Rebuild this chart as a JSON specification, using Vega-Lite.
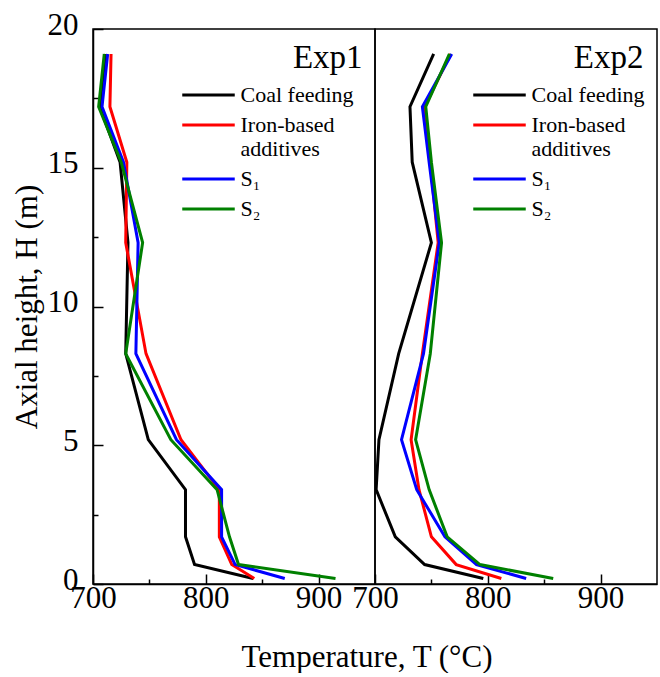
{
  "$schema": "https://vega.github.io/schema/vega-lite/v6.json",
  "padding": {"left": 10, "top": 8, "right": 0, "bottom": 0},
  "bounds": "flush",
  "spacing": 0,
  "config": {
    "font": "Liberation Serif",
    "view": {"stroke": "black", "strokeWidth": 1.5},
    "axis": {"labelFont": "Liberation Serif", "titleFont": "Liberation Serif", "labelColor": "black", "titleColor": "black", "domainColor": "black", "tickColor": "black", "grid": false},
    "legend": {"labelFont": "Liberation Serif", "labelColor": "black"}
  },
  "title": {"text": "Temperature, T (°C)", "orient": "bottom", "anchor": "middle", "fontSize": 31, "fontWeight": "normal", "font": "Liberation Serif", "color": "black", "offset": 24, "dx": 33},
  "datasets": {
    "exp1": [
      {"H": 19.1, "Coal feeding": 711, "Iron-based additives": 716, "S₁": 713, "S₂": 710},
      {"H": 17.2, "Coal feeding": 706, "Iron-based additives": 715, "S₁": 708, "S₂": 705},
      {"H": 15.2, "Coal feeding": 724, "Iron-based additives": 730, "S₁": 727, "S₂": 725},
      {"H": 12.3, "Coal feeding": 731, "Iron-based additives": 729, "S₁": 740, "S₂": 744},
      {"H": 8.3, "Coal feeding": 729, "Iron-based additives": 747, "S₁": 738, "S₂": 729},
      {"H": 5.2, "Coal feeding": 749, "Iron-based additives": 778, "S₁": 774, "S₂": 769},
      {"H": 3.4, "Coal feeding": 782, "Iron-based additives": 812, "S₁": 814, "S₂": 810},
      {"H": 1.7, "Coal feeding": 782, "Iron-based additives": 812, "S₁": 814, "S₂": 821},
      {"H": 0.7, "Coal feeding": 790, "Iron-based additives": 823, "S₁": 826, "S₂": 829},
      {"H": 0.2, "Coal feeding": 842, "Iron-based additives": 843, "S₁": 870, "S₂": 915}
    ],
    "exp2": [
      {"H": 19.1, "Coal feeding": 752, "Iron-based additives": 767, "S₁": 768, "S₂": 766},
      {"H": 17.2, "Coal feeding": 731, "Iron-based additives": 744, "S₁": 742, "S₂": 745},
      {"H": 15.2, "Coal feeding": 733, "Iron-based additives": 749, "S₁": 748, "S₂": 750},
      {"H": 12.3, "Coal feeding": 750, "Iron-based additives": 756, "S₁": 757, "S₂": 759},
      {"H": 8.3, "Coal feeding": 721, "Iron-based additives": 742, "S₁": 743, "S₂": 749},
      {"H": 5.2, "Coal feeding": 703.5, "Iron-based additives": 732, "S₁": 723.5, "S₂": 736},
      {"H": 3.4, "Coal feeding": 701, "Iron-based additives": 739, "S₁": 737, "S₂": 748},
      {"H": 1.7, "Coal feeding": 718, "Iron-based additives": 750, "S₁": 762, "S₂": 764},
      {"H": 0.7, "Coal feeding": 744, "Iron-based additives": 772, "S₁": 790, "S₂": 793},
      {"H": 0.2, "Coal feeding": 796, "Iron-based additives": 812, "S₁": 834, "S₂": 858}
    ]
  },
  "resolve": {"scale": {"color": "independent"}, "legend": {"color": "independent"}},
  "hconcat": [
    {
      "width": 282,
      "height": 555,
      "layer": [
        {
          "data": {"name": "exp1"},
          "transform": [{"fold": ["Coal feeding", "Iron-based additives", "S₁", "S₂"], "as": ["series", "T"]}],
          "mark": {"type": "line", "strokeWidth": 3, "clip": true},
          "encoding": {
            "x": {"field": "T", "type": "quantitative", "scale": {"domain": [700, 950], "nice": false, "zero": false},
              "axis": {"values": [700, 750, 800, 850, 900], "title": null, "labelFontSize": 31, "labelPadding": 9, "labelFlush": false, "labelOverlap": false, "labelBound": false,
                "labelExpr": "datum.value % 100 === 0 ? datum.label : ''", "domainWidth": 1.5, "tickWidth": 1.5,
                "tickSize": {"condition": {"test": "datum.value % 100 !== 0", "value": -5}, "value": -10}}},
            "y": {"field": "H", "type": "quantitative", "scale": {"domain": [0, 20], "nice": false},
              "axis": {"values": [0, 2.5, 5, 7.5, 10, 12.5, 15, 17.5, 20], "title": "Axial height, H (m)", "titleFontSize": 31, "titleFontWeight": "normal", "titlePadding": 4,
                "labelFontSize": 31, "labelPadding": 25, "labelOffset": -4, "labelOverlap": false, "labelFlush": false, "labelBound": false,
                "labelExpr": "datum.value % 5 === 0 ? datum.label : ''", "domainWidth": 1.5, "tickWidth": 1.5,
                "tickSize": {"condition": {"test": "datum.value % 5 !== 0", "value": -5}, "value": -10}}},
            "color": {"field": "series", "type": "nominal",
              "scale": {"domain": ["Coal feeding", "Iron-based additives", "S₁", "S₂"], "range": ["#000000", "#ff0000", "#0000ff", "#008000"]},
              "legend": {"orient": "none", "legendX": 103.5, "legendY": 54, "title": null, "symbolType": "M-2.5,0H2.5", "symbolSize": 441, "symbolStrokeWidth": 3,
                "labelFontSize": 22, "labelOffset": 20, "rowPadding": 7, "padding": 0, "labelLimit": 0,
                "labelExpr": "datum.label == 'Iron-based additives' ? ['Iron-based', 'additives'] : datum.label"}},
            "order": {"field": "H", "type": "quantitative"}
          }
        },
        {
          "data": {"values": [{"label": "Exp1"}]},
          "mark": {"type": "text", "fontSize": 33, "align": "right", "baseline": "alphabetic", "color": "black", "font": "Liberation Serif"},
          "encoding": {"x": {"datum": 939}, "y": {"datum": 18.6}, "text": {"field": "label"}}
        }
      ]
    },
    {
      "width": 282,
      "height": 555,
      "layer": [
        {
          "data": {"name": "exp2"},
          "transform": [{"fold": ["Coal feeding", "Iron-based additives", "S₁", "S₂"], "as": ["series", "T"]}],
          "mark": {"type": "line", "strokeWidth": 3, "clip": true},
          "encoding": {
            "x": {"field": "T", "type": "quantitative", "scale": {"domain": [700, 950], "nice": false, "zero": false},
              "axis": {"values": [700, 750, 800, 850, 900], "title": null, "labelFontSize": 31, "labelPadding": 9, "labelFlush": false, "labelOverlap": false, "labelBound": false,
                "labelExpr": "datum.value % 100 === 0 ? datum.label : ''", "domainWidth": 1.5, "tickWidth": 1.5,
                "tickSize": {"condition": {"test": "datum.value % 100 !== 0", "value": -5}, "value": -10}}},
            "y": {"field": "H", "type": "quantitative", "scale": {"domain": [0, 20], "nice": false}, "axis": null},
            "color": {"field": "series", "type": "nominal",
              "scale": {"domain": ["Coal feeding", "Iron-based additives", "S₁", "S₂"], "range": ["#000000", "#ff0000", "#0000ff", "#008000"]},
              "legend": {"orient": "none", "legendX": 112.5, "legendY": 54, "title": null, "symbolType": "M-2.5,0H2.5", "symbolSize": 441, "symbolStrokeWidth": 3,
                "labelFontSize": 22, "labelOffset": 20, "rowPadding": 7, "padding": 0, "labelLimit": 0,
                "labelExpr": "datum.label == 'Iron-based additives' ? ['Iron-based', 'additives'] : datum.label"}},
            "order": {"field": "H", "type": "quantitative"}
          }
        },
        {
          "data": {"values": [{"label": "Exp2"}]},
          "mark": {"type": "text", "fontSize": 33, "align": "right", "baseline": "alphabetic", "color": "black", "font": "Liberation Serif"},
          "encoding": {"x": {"datum": 938}, "y": {"datum": 18.6}, "text": {"field": "label"}}
        }
      ]
    }
  ]
}
